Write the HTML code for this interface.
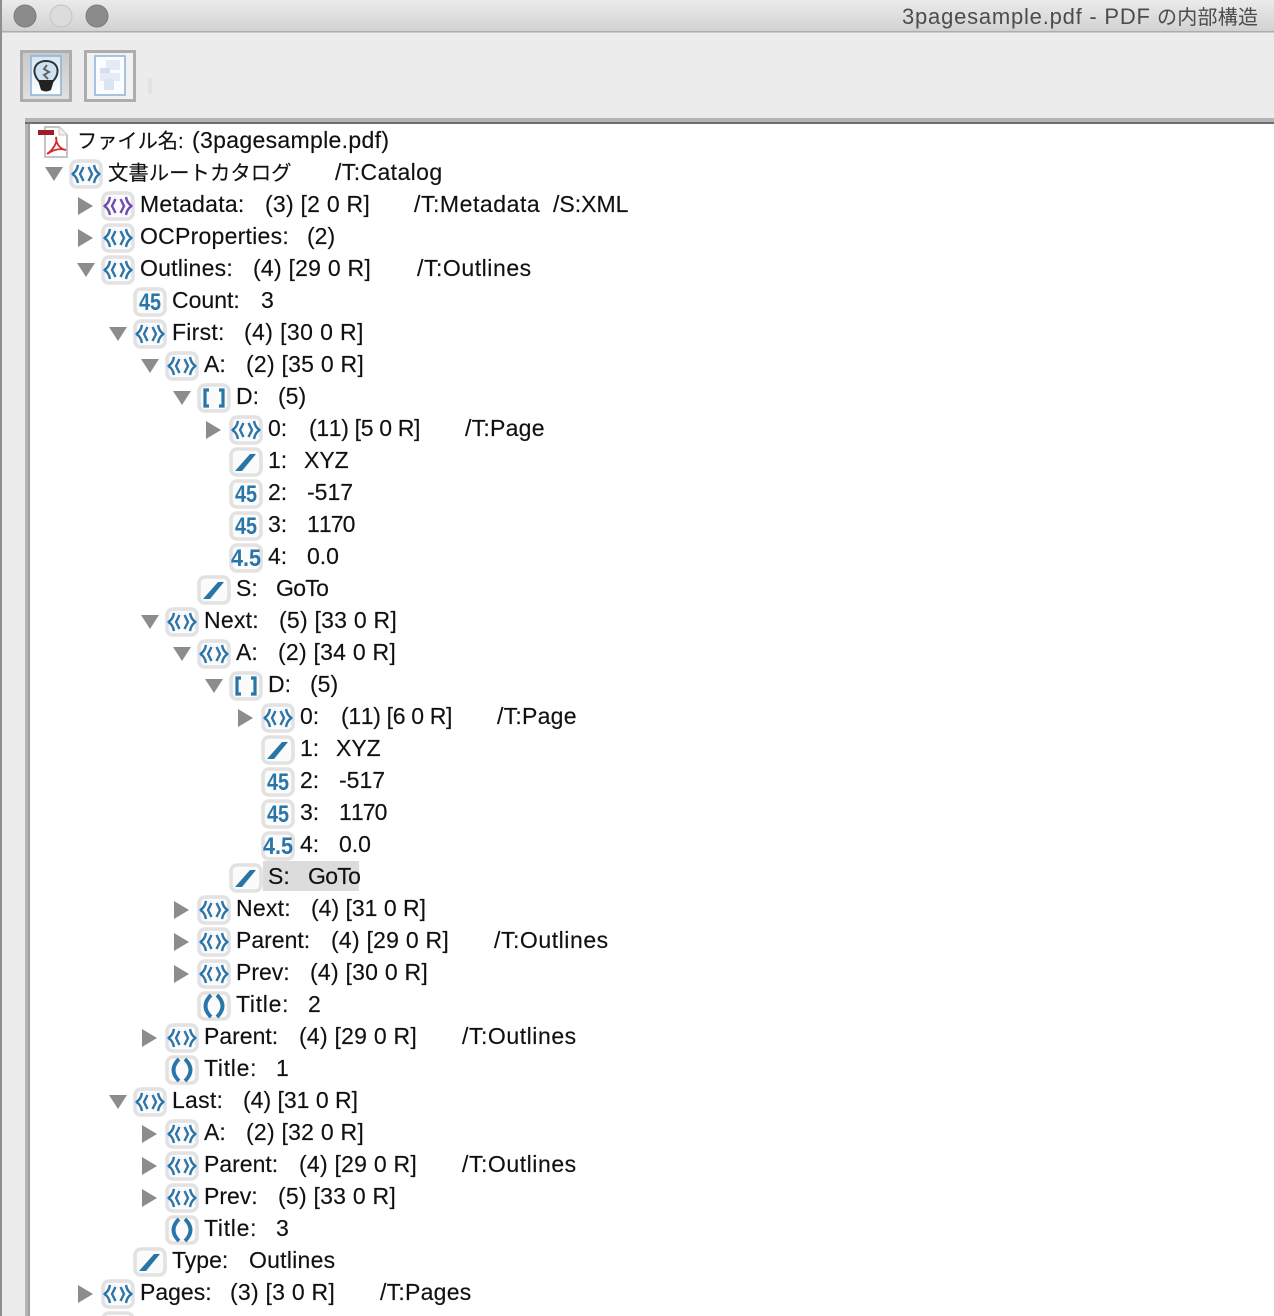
<!DOCTYPE html>
<html lang="ja">
<head>
<meta charset="utf-8">
<title>3pagesample.pdf - PDF の内部構造</title>
<style>
html,body{margin:0;padding:0;background:#ececec;width:1274px;height:1316px;overflow:hidden}
svg{display:block}
text{font-family:"Liberation Sans","Noto Sans CJK JP",sans-serif;font-size:23px;fill:#111;stroke:#111;stroke-width:.15}
.b{fill:#fbfbfb;stroke:#e2e2e2;stroke-width:3.6}
.i{fill:none;stroke:#2a75a8;stroke-width:2.4;stroke-linejoin:round}
.p{fill:none;stroke:#6f4bb0;stroke-width:2.4;stroke-linejoin:round}
.q{fill:none;stroke:#2a75a8;stroke-width:3.8}
.k{fill:none;stroke:#2a75a8;stroke-width:3.2}
.a{fill:#8c8c8c}
.s{fill:#2a75a8}
text.n{font-size:24px;font-weight:bold;fill:#2a75a8;stroke:none}
text.tt{font-size:22px;fill:#4c4c4c;stroke:none}
text.cj{font-size:20px;fill:#4c4c4c;stroke:none}
text.c1{font-size:20.2px}
text.c2{font-size:20.4px}
.v{letter-spacing:.25px}
.o{letter-spacing:.55px}
.t{letter-spacing:.7px}
.g{letter-spacing:-.7px}
.h{font-kerning:none;letter-spacing:-.9px}
.e{font-kerning:none;letter-spacing:-.33px}
.c{letter-spacing:.4px}
</style>
</head>
<body>
<svg xmlns="http://www.w3.org/2000/svg" width="1274" height="1316" viewBox="0 0 1274 1316">
<linearGradient id="tb" x1="0" y1="0" x2="0" y2="1"><stop offset="0" stop-color="#ebebeb"/><stop offset="1" stop-color="#d2d2d2"/></linearGradient>
<linearGradient id="dk" x1="0" y1="0" x2="0" y2="1"><stop offset="0" stop-color="#d4e7f8"/><stop offset="1" stop-color="#ffffff"/></linearGradient>
<linearGradient id="pb" x1="0" y1="0" x2="0" y2="1"><stop offset="0" stop-color="#c9c9c9"/><stop offset="1" stop-color="#e0e0e0"/></linearGradient>
<rect width="1274" height="1316" fill="#ececec"/>
<rect width="1274" height="31" fill="url(#tb)"/>
<rect y="31" width="1274" height="1.5" fill="#adadad"/>
<rect width="2" height="1316" fill="#8e8e8e"/>
<circle cx="25" cy="16" r="11" fill="#8b8b8b" stroke="#7c7c7c"/>
<circle cx="61" cy="16" r="11" fill="#dcdcdc" stroke="#c4c4c4"/>
<circle cx="97" cy="16" r="11" fill="#8b8b8b" stroke="#7c7c7c"/>
<text class="tt" x="902" y="24" textLength="248">3pagesample.pdf - PDF</text>
<text class="cj" x="1157" y="24" textLength="101">の内部構造</text>

<rect x="21.5" y="51.5" width="49" height="49" fill="url(#pb)" stroke="#adadad" stroke-width="3"/>
<rect x="31" y="56" width="30" height="39" fill="url(#dk)" stroke="#8fb0d6" stroke-width="1.5"/>
<path d="M40 82C31 74 33 61 46 61C59 61 61 74 52 82Z" fill="#cfe2f2" stroke="#333" stroke-width="2"/>
<path d="M47 65L44 69L49 72L44 75L48 79" fill="none" stroke="#666" stroke-width="2"/>
<path d="M38 80H54L51 90Q46 93 41 90Z" fill="#222"/>
<rect x="85.5" y="51.5" width="49" height="49" fill="#f1f1f1" stroke="#adadad" stroke-width="3"/>
<rect x="95" y="56" width="30" height="39" fill="#fafcff" stroke="#8fb0d6" stroke-width="1.5"/>
<rect x="106" y="60" width="14" height="10" fill="#e4ebf5"/>
<rect x="100" y="68" width="10" height="5" fill="#d5dff0"/>
<rect x="100" y="73" width="20" height="8" fill="#e4ebf5"/>
<rect x="104" y="79" width="10" height="11" fill="#dbe5f2"/>
<rect x="148" y="78" width="4" height="16" fill="#e2e2e2"/>

<rect x="25" y="118" width="1249" height="1198" fill="#b4b4b8"/>
<rect x="25" y="122" width="1249" height="2" fill="#6e6e6e"/>
<rect x="28" y="124" width="2" height="1192" fill="#a0a0a0"/>
<rect x="30" y="124" width="1244" height="1192" fill="#fff"/>

<!-- file row -->
<path d="M45 127H59L67 135V157H45Z" fill="#fff" stroke="#c4c4c4" stroke-width="2"/>
<path d="M59 127V135H67" fill="#eee" stroke="#c8c8c8"/>
<rect x="38" y="130" width="16" height="5" fill="#a01c24"/>
<path d="M47 154C53 150 58 142 56 137C56 144 60 149 66 150C60 148 53 150 47 154Z" fill="none" stroke="#d8262c" stroke-width="1.8"/>
<text class="c1" x="77" y="148">ファイル名:</text><text x="192" y="148" textLength="197">(3pagesample.pdf)</text>

<!-- row 1 -->
<polygon class="a" points="45,167 63,167 54,181"/>
<g transform="translate(86,174)"><rect class="b" x="-15" y="-13" width="30" height="26" rx="6"/><path class="i" d="M-8-9Q-9-3-13.5 0Q-9 3-8 9M-2.5-7L-6 0L-2.5 7M8-9Q9-3 13.5 0Q9 3 8 9M2.5-7L6 0L2.5 7"/></g>
<text class="c2" x="108" y="180">文書ルートカタログ</text><text class="c" x="335" y="180">/T:Catalog</text>

<!-- row 2 -->
<polygon class="a" points="78,197 93,206 78,215"/>
<g transform="translate(118,206)"><rect class="b" x="-15" y="-13" width="30" height="26" rx="6"/><path class="p" d="M-8-9Q-9-3-13.5 0Q-9 3-8 9M-2.5-7L-6 0L-2.5 7M8-9Q9-3 13.5 0Q9 3 8 9M2.5-7L6 0L2.5 7"/></g>
<text class="v" x="140" y="212">Metadata:</text><text class="v" x="265" y="212">(3) [2 0 R]</text><text class="o" x="414" y="212">/T:Metadata</text><text x="553" y="212">/S:XML</text>

<!-- row 3 -->
<polygon class="a" points="78,229 93,238 78,247"/>
<g transform="translate(118,238)"><rect class="b" x="-15" y="-13" width="30" height="26" rx="6"/><path class="i" d="M-8-9Q-9-3-13.5 0Q-9 3-8 9M-2.5-7L-6 0L-2.5 7M8-9Q9-3 13.5 0Q9 3 8 9M2.5-7L6 0L2.5 7"/></g>
<text class="v" x="140" y="244">OCProperties:</text><text x="307" y="244">(2)</text>

<!-- row 4 -->
<polygon class="a" points="77,263 95,263 86,277"/>
<g transform="translate(118,270)"><rect class="b" x="-15" y="-13" width="30" height="26" rx="6"/><path class="i" d="M-8-9Q-9-3-13.5 0Q-9 3-8 9M-2.5-7L-6 0L-2.5 7M8-9Q9-3 13.5 0Q9 3 8 9M2.5-7L6 0L2.5 7"/></g>
<text class="v" x="140" y="276">Outlines:</text><text class="v" x="253" y="276">(4) [29 0 R]</text><text class="o" x="417" y="276">/T:Outlines</text>

<!-- row 5 -->
<g transform="translate(150,302)"><rect class="b" x="-15" y="-13" width="30" height="26" rx="6"/><text class="n" x="-11" y="8" textLength="22" lengthAdjust="spacingAndGlyphs">45</text></g>
<text x="172" y="308">Count:</text><text x="261" y="308">3</text>

<!-- row 6 -->
<polygon class="a" points="109,327 127,327 118,341"/>
<g transform="translate(150,334)"><rect class="b" x="-15" y="-13" width="30" height="26" rx="6"/><path class="i" d="M-8-9Q-9-3-13.5 0Q-9 3-8 9M-2.5-7L-6 0L-2.5 7M8-9Q9-3 13.5 0Q9 3 8 9M2.5-7L6 0L2.5 7"/></g>
<text class="v" x="172" y="340">First:</text><text class="c" x="244" y="340">(4) [30 0 R]</text>

<!-- row 7 -->
<polygon class="a" points="141,359 159,359 150,373"/>
<g transform="translate(182,366)"><rect class="b" x="-15" y="-13" width="30" height="26" rx="6"/><path class="i" d="M-8-9Q-9-3-13.5 0Q-9 3-8 9M-2.5-7L-6 0L-2.5 7M8-9Q9-3 13.5 0Q9 3 8 9M2.5-7L6 0L2.5 7"/></g>
<text x="204" y="372">A:</text><text class="v" x="246" y="372">(2) [35 0 R]</text>

<!-- row 8 -->
<polygon class="a" points="173,391 191,391 182,405"/>
<g transform="translate(214,398)"><rect class="b" x="-15" y="-13" width="30" height="26" rx="6"/><path class="k" d="M-5-8H-9V8H-5M5-8H9V8H5"/></g>
<text x="236" y="404">D:</text><text x="278" y="404">(5)</text>

<!-- row 9 -->
<polygon class="a" points="206,421 221,430 206,439"/>
<g transform="translate(246,430)"><rect class="b" x="-15" y="-13" width="30" height="26" rx="6"/><path class="i" d="M-8-9Q-9-3-13.5 0Q-9 3-8 9M-2.5-7L-6 0L-2.5 7M8-9Q9-3 13.5 0Q9 3 8 9M2.5-7L6 0L2.5 7"/></g>
<text x="268" y="436">0:</text><text class="e" x="309" y="436">(11) [5 0 R]</text><text class="v" x="465" y="436">/T:Page</text>

<!-- row 10 -->
<g transform="translate(246,462)"><rect class="b" x="-15" y="-13" width="30" height="26" rx="6"/><polygon class="s" points="-11,9 4,-8 10,-8 -4,9"/></g>
<text x="268" y="468">1:</text><text x="304" y="468">XYZ</text>

<!-- row 11 -->
<g transform="translate(246,494)"><rect class="b" x="-15" y="-13" width="30" height="26" rx="6"/><text class="n" x="-11" y="8" textLength="22" lengthAdjust="spacingAndGlyphs">45</text></g>
<text x="268" y="500">2:</text><text x="307" y="500">-517</text>

<!-- row 12 -->
<g transform="translate(246,526)"><rect class="b" x="-15" y="-13" width="30" height="26" rx="6"/><text class="n" x="-11" y="8" textLength="22" lengthAdjust="spacingAndGlyphs">45</text></g>
<text x="268" y="532">3:</text><text class="h" x="307" y="532">1170</text>

<!-- row 13 -->
<g transform="translate(246,558)"><rect class="b" x="-15" y="-13" width="30" height="26" rx="6"/><text class="n" x="-15" y="8" textLength="30" lengthAdjust="spacingAndGlyphs">4.5</text></g>
<text x="268" y="564">4:</text><text x="307" y="564">0.0</text>

<!-- row 14 -->
<g transform="translate(214,590)"><rect class="b" x="-15" y="-13" width="30" height="26" rx="6"/><polygon class="s" points="-11,9 4,-8 10,-8 -4,9"/></g>
<text x="236" y="596">S:</text><text class="g" x="276" y="596">GoTo</text>

<!-- row 15 -->
<polygon class="a" points="141,615 159,615 150,629"/>
<g transform="translate(182,622)"><rect class="b" x="-15" y="-13" width="30" height="26" rx="6"/><path class="i" d="M-8-9Q-9-3-13.5 0Q-9 3-8 9M-2.5-7L-6 0L-2.5 7M8-9Q9-3 13.5 0Q9 3 8 9M2.5-7L6 0L2.5 7"/></g>
<text class="v" x="204" y="628">Next:</text><text class="v" x="279" y="628">(5) [33 0 R]</text>

<!-- row 16 -->
<polygon class="a" points="173,647 191,647 182,661"/>
<g transform="translate(214,654)"><rect class="b" x="-15" y="-13" width="30" height="26" rx="6"/><path class="i" d="M-8-9Q-9-3-13.5 0Q-9 3-8 9M-2.5-7L-6 0L-2.5 7M8-9Q9-3 13.5 0Q9 3 8 9M2.5-7L6 0L2.5 7"/></g>
<text x="236" y="660">A:</text><text class="v" x="278" y="660">(2) [34 0 R]</text>

<!-- row 17 -->
<polygon class="a" points="205,679 223,679 214,693"/>
<g transform="translate(246,686)"><rect class="b" x="-15" y="-13" width="30" height="26" rx="6"/><path class="k" d="M-5-8H-9V8H-5M5-8H9V8H5"/></g>
<text x="268" y="692">D:</text><text x="310" y="692">(5)</text>

<!-- row 18 -->
<polygon class="a" points="238,709 253,718 238,727"/>
<g transform="translate(278,718)"><rect class="b" x="-15" y="-13" width="30" height="26" rx="6"/><path class="i" d="M-8-9Q-9-3-13.5 0Q-9 3-8 9M-2.5-7L-6 0L-2.5 7M8-9Q9-3 13.5 0Q9 3 8 9M2.5-7L6 0L2.5 7"/></g>
<text x="300" y="724">0:</text><text class="e" x="341" y="724">(11) [6 0 R]</text><text class="v" x="497" y="724">/T:Page</text>

<!-- row 19 -->
<g transform="translate(278,750)"><rect class="b" x="-15" y="-13" width="30" height="26" rx="6"/><polygon class="s" points="-11,9 4,-8 10,-8 -4,9"/></g>
<text x="300" y="756">1:</text><text x="336" y="756">XYZ</text>

<!-- row 20 -->
<g transform="translate(278,782)"><rect class="b" x="-15" y="-13" width="30" height="26" rx="6"/><text class="n" x="-11" y="8" textLength="22" lengthAdjust="spacingAndGlyphs">45</text></g>
<text x="300" y="788">2:</text><text x="339" y="788">-517</text>

<!-- row 21 -->
<g transform="translate(278,814)"><rect class="b" x="-15" y="-13" width="30" height="26" rx="6"/><text class="n" x="-11" y="8" textLength="22" lengthAdjust="spacingAndGlyphs">45</text></g>
<text x="300" y="820">3:</text><text class="h" x="339" y="820">1170</text>

<!-- row 22 -->
<g transform="translate(278,846)"><rect class="b" x="-15" y="-13" width="30" height="26" rx="6"/><text class="n" x="-15" y="8" textLength="30" lengthAdjust="spacingAndGlyphs">4.5</text></g>
<text x="300" y="852">4:</text><text x="339" y="852">0.0</text>

<!-- row 23 selected -->
<rect x="263" y="861" width="96" height="30" fill="#dcdcdc"/>
<g transform="translate(246,878)"><rect class="b" x="-15" y="-13" width="30" height="26" rx="6"/><polygon class="s" points="-11,9 4,-8 10,-8 -4,9"/></g>
<text x="268" y="884">S:</text><text class="g" x="308" y="884">GoTo</text>

<!-- row 24 -->
<polygon class="a" points="174,901 189,910 174,919"/>
<g transform="translate(214,910)"><rect class="b" x="-15" y="-13" width="30" height="26" rx="6"/><path class="i" d="M-8-9Q-9-3-13.5 0Q-9 3-8 9M-2.5-7L-6 0L-2.5 7M8-9Q9-3 13.5 0Q9 3 8 9M2.5-7L6 0L2.5 7"/></g>
<text class="v" x="236" y="916">Next:</text><text x="311" y="916">(4) [31 0 R]</text>

<!-- row 25 -->
<polygon class="a" points="174,933 189,942 174,951"/>
<g transform="translate(214,942)"><rect class="b" x="-15" y="-13" width="30" height="26" rx="6"/><path class="i" d="M-8-9Q-9-3-13.5 0Q-9 3-8 9M-2.5-7L-6 0L-2.5 7M8-9Q9-3 13.5 0Q9 3 8 9M2.5-7L6 0L2.5 7"/></g>
<text x="236" y="948">Parent:</text><text class="v" x="331" y="948">(4) [29 0 R]</text><text class="o" x="494" y="948">/T:Outlines</text>

<!-- row 26 -->
<polygon class="a" points="174,965 189,974 174,983"/>
<g transform="translate(214,974)"><rect class="b" x="-15" y="-13" width="30" height="26" rx="6"/><path class="i" d="M-8-9Q-9-3-13.5 0Q-9 3-8 9M-2.5-7L-6 0L-2.5 7M8-9Q9-3 13.5 0Q9 3 8 9M2.5-7L6 0L2.5 7"/></g>
<text x="236" y="980">Prev:</text><text class="v" x="310" y="980">(4) [30 0 R]</text>

<!-- row 27 -->
<g transform="translate(214,1006)"><rect class="b" x="-15" y="-13" width="30" height="26" rx="6"/><path class="q" d="M-3-11Q-14 0-3 11M3-11Q14 0 3 11"/></g>
<text class="t" x="236" y="1012">Title:</text><text x="308" y="1012">2</text>

<!-- row 28 -->
<polygon class="a" points="142,1029 157,1038 142,1047"/>
<g transform="translate(182,1038)"><rect class="b" x="-15" y="-13" width="30" height="26" rx="6"/><path class="i" d="M-8-9Q-9-3-13.5 0Q-9 3-8 9M-2.5-7L-6 0L-2.5 7M8-9Q9-3 13.5 0Q9 3 8 9M2.5-7L6 0L2.5 7"/></g>
<text x="204" y="1044">Parent:</text><text class="v" x="299" y="1044">(4) [29 0 R]</text><text class="o" x="462" y="1044">/T:Outlines</text>

<!-- row 29 -->
<g transform="translate(182,1070)"><rect class="b" x="-15" y="-13" width="30" height="26" rx="6"/><path class="q" d="M-3-11Q-14 0-3 11M3-11Q14 0 3 11"/></g>
<text class="t" x="204" y="1076">Title:</text><text x="276" y="1076">1</text>

<!-- row 30 -->
<polygon class="a" points="109,1095 127,1095 118,1109"/>
<g transform="translate(150,1102)"><rect class="b" x="-15" y="-13" width="30" height="26" rx="6"/><path class="i" d="M-8-9Q-9-3-13.5 0Q-9 3-8 9M-2.5-7L-6 0L-2.5 7M8-9Q9-3 13.5 0Q9 3 8 9M2.5-7L6 0L2.5 7"/></g>
<text class="v" x="172" y="1108">Last:</text><text x="243" y="1108">(4) [31 0 R]</text>

<!-- row 31 -->
<polygon class="a" points="142,1125 157,1134 142,1143"/>
<g transform="translate(182,1134)"><rect class="b" x="-15" y="-13" width="30" height="26" rx="6"/><path class="i" d="M-8-9Q-9-3-13.5 0Q-9 3-8 9M-2.5-7L-6 0L-2.5 7M8-9Q9-3 13.5 0Q9 3 8 9M2.5-7L6 0L2.5 7"/></g>
<text x="204" y="1140">A:</text><text class="v" x="246" y="1140">(2) [32 0 R]</text>

<!-- row 32 -->
<polygon class="a" points="142,1157 157,1166 142,1175"/>
<g transform="translate(182,1166)"><rect class="b" x="-15" y="-13" width="30" height="26" rx="6"/><path class="i" d="M-8-9Q-9-3-13.5 0Q-9 3-8 9M-2.5-7L-6 0L-2.5 7M8-9Q9-3 13.5 0Q9 3 8 9M2.5-7L6 0L2.5 7"/></g>
<text x="204" y="1172">Parent:</text><text class="v" x="299" y="1172">(4) [29 0 R]</text><text class="o" x="462" y="1172">/T:Outlines</text>

<!-- row 33 -->
<polygon class="a" points="142,1189 157,1198 142,1207"/>
<g transform="translate(182,1198)"><rect class="b" x="-15" y="-13" width="30" height="26" rx="6"/><path class="i" d="M-8-9Q-9-3-13.5 0Q-9 3-8 9M-2.5-7L-6 0L-2.5 7M8-9Q9-3 13.5 0Q9 3 8 9M2.5-7L6 0L2.5 7"/></g>
<text x="204" y="1204">Prev:</text><text class="v" x="278" y="1204">(5) [33 0 R]</text>

<!-- row 34 -->
<g transform="translate(182,1230)"><rect class="b" x="-15" y="-13" width="30" height="26" rx="6"/><path class="q" d="M-3-11Q-14 0-3 11M3-11Q14 0 3 11"/></g>
<text class="t" x="204" y="1236">Title:</text><text x="276" y="1236">3</text>

<!-- row 35 -->
<g transform="translate(150,1262)"><rect class="b" x="-15" y="-13" width="30" height="26" rx="6"/><polygon class="s" points="-11,9 4,-8 10,-8 -4,9"/></g>
<text x="172" y="1268">Type:</text><text class="v" x="249" y="1268">Outlines</text>

<!-- row 36 -->
<polygon class="a" points="78,1285 93,1294 78,1303"/>
<g transform="translate(118,1294)"><rect class="b" x="-15" y="-13" width="30" height="26" rx="6"/><path class="i" d="M-8-9Q-9-3-13.5 0Q-9 3-8 9M-2.5-7L-6 0L-2.5 7M8-9Q9-3 13.5 0Q9 3 8 9M2.5-7L6 0L2.5 7"/></g>
<text x="140" y="1300">Pages:</text><text class="v" x="230" y="1300">(3) [3 0 R]</text><text class="v" x="380" y="1300">/T:Pages</text>

<!-- row 37 partial -->
<rect class="b" x="103" y="1313" width="30" height="26" rx="6"/>
</svg>
</body>
</html>
